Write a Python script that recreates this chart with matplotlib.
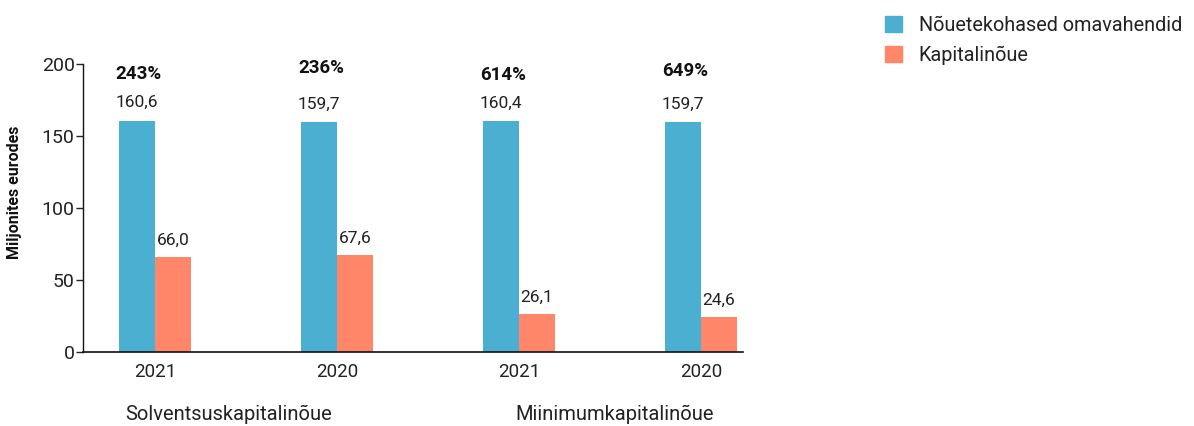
import matplotlib
matplotlib.use("Agg")
import matplotlib.pyplot as plt
from matplotlib.patches import Patch
import numpy as np

plt.rcParams['font.family'] = ['Roboto', 'DejaVu Sans']

years = ["2021", "2020", "2021", "2020"]
groups = ["Solventsuskapitalinõue", "Miinimumkapitalinõue"]
own_funds = [160.6, 159.7, 160.4, 159.7]
requirement = [66.0, 67.6, 26.1, 24.6]
ratios = ["243%", "236%", "614%", "649%"]
series_names = ["Nõuetekohased omavahendid", "Kapitalinõue"]

BLUE = "#4BAFD2"
RED = "#FF8669"

W, H = 1194, 426
fig = plt.figure(figsize=(W / 100, H / 100), dpi=100)
ax = fig.add_axes([83 / W, (H - 352) / H, (743 - 83) / W, (352 - 64) / H])

x = np.arange(len(years))
bw = 0.198
ax.bar(x - bw / 2, own_funds, bw, color=BLUE)
ax.bar(x + bw / 2, requirement, bw, color=RED)

fmt = lambda v: f"{v:.1f}".replace(".", ",")
for xi, v in zip(x, own_funds):
    ax.annotate(fmt(v), (xi - bw / 2, v), xytext=(0, 13), textcoords="offset points",
                ha="center", va="center", fontsize=12.5, color="#222222")
for xi, v in zip(x, requirement):
    ax.annotate(fmt(v), (xi + bw / 2, v), xytext=(0, 12), textcoords="offset points",
                ha="center", va="center", fontsize=12.5, color="#222222")

pct_dy = [-1, 3, -2, 1]
for xi, r, dy in zip(x, ratios, pct_dy):
    ax.annotate(r, (xi - bw / 2 + 0.01, 194), xytext=(0, dy), textcoords="offset points",
                ha="center", va="center", fontsize=13.5, fontweight="bold", color="#111111")

ax.set_xlim(-0.396, 3.231)
ax.set_ylim(0, 200)
ax.set_yticks([0, 50, 100, 150, 200])
ax.tick_params(axis="y", length=5, width=1, labelsize=14, pad=1, colors="#222222")
ax.set_xticks(x)
ax.set_xticklabels(years)
ax.tick_params(axis="x", length=0, labelsize=13.5, pad=8, colors="#222222")
for s in ["top", "right"]:
    ax.spines[s].set_visible(False)
ax.spines["left"].set_linewidth(1)
ax.spines["bottom"].set_linewidth(1.2)
ax.spines["left"].set_color("#111111")
ax.spines["bottom"].set_color("#111111")

fig.text(15 / W, 1 - 192 / H, "Miljonites eurodes", rotation=90, ha="center", va="center",
         fontsize=11.5, fontweight="bold", color="#111111")
fig.text(229 / W, 1 - 414 / H, groups[0], ha="center", va="center", fontsize=14.5, color="#222222")
fig.text(615 / W, 1 - 414 / H, groups[1], ha="center", va="center", fontsize=14.5, color="#222222")

handles = [Patch(color=BLUE), Patch(color=RED)]
fig.legend(handles, series_names, loc="upper left", bbox_to_anchor=(867 / W, 1 + 2 / H),
           frameon=False, fontsize=14.3, handlelength=0.85, handleheight=0.85,
           handletextpad=0.85, labelspacing=0.55, labelcolor="#222222")

fig.savefig("out.png", dpi=100)
